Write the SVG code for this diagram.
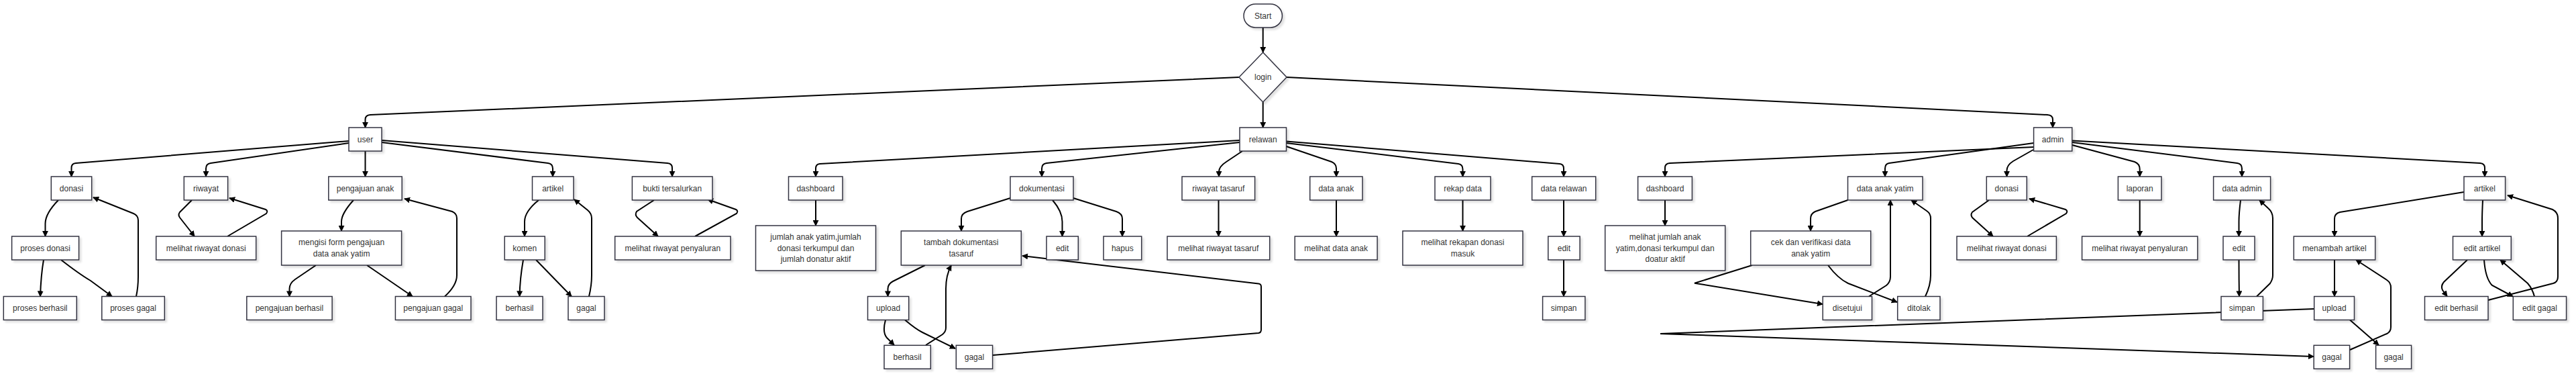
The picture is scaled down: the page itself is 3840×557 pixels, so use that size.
<svg xmlns="http://www.w3.org/2000/svg" width="3840" height="557" viewBox="0 0 3840 557">
<style>
.n rect,.n polygon{fill:#fff;stroke:#333340;stroke-width:1.5;filter:url(#sh)}
.n text{font-family:"Liberation Sans",Arial,sans-serif;font-size:12px;fill:#333;text-anchor:middle;dominant-baseline:central}
.e path{fill:none;stroke:#000;stroke-width:2;marker-end:url(#ah)}
</style>
<defs>
<filter id="sh" x="-20%" y="-20%" width="150%" height="150%"><feDropShadow dx="3" dy="3" stdDeviation="1.5" flood-color="#000" flood-opacity="0.12"/></filter>
<marker id="ah" viewBox="0 0 10 10" refX="9" refY="5" markerWidth="9" markerHeight="9" markerUnits="userSpaceOnUse" orient="auto"><path d="M0,0 L10,5 L0,10 z" fill="#000"/></marker>
</defs>
<g id="connectors" class="e">
<path d="M1882.7,41 L1882.7,78"/>
<path d="M1882.7,152 L1882.7,190"/>
<path d="M1847,115 L552,171 Q544.5,171.5 544.5,178 L544.5,190"/>
<path d="M1918,115 L3052,171 Q3060,171.5 3060,178 L3060,190"/>
<path d="M520,210 L113,243 Q106.5,243.5 106.5,250 L106.5,263"/>
<path d="M520,213 L314,243 Q307,244 307,251 L307,263"/>
<path d="M544.5,225 L544.5,263"/>
<path d="M569,212 L817,243 Q824,244 824,251 L824,263"/>
<path d="M569,209 L995,243 Q1002,243.5 1002,250 L1002,263"/>
<path d="M87,298 Q67.5,318 67.5,333 L67.5,352"/>
<path d="M203,441.5 Q206,428 206,412 L206,328 Q206,321 199,318 L139,294"/>
<path d="M65,387 Q61,410 60,441.5"/>
<path d="M91,387 Q118,408 135,418 L167,441.5"/>
<path d="M286,298 L268,316 Q265,320 268,324 L290,352"/>
<path d="M339,352 L397,318 Q400,314 396,312 L342,295"/>
<path d="M527,298 Q509,318 509,330 L509,344"/>
<path d="M471,395 L440,416 Q431.5,422 431.5,430 L431.5,441.5"/>
<path d="M547,395 L615,441.5"/>
<path d="M663,441.5 Q681,425 681,410 L681,325 Q681,318 674,315 L603,296"/>
<path d="M803,298 Q782,315 782,330 L782,352"/>
<path d="M780,387 Q775,415 774.5,441.5"/>
<path d="M799,387 L852,441.5"/>
<path d="M878,441.5 Q882,425 882,410 L882,325 Q882,318 876,313 L856,297"/>
<path d="M975,298 L949,315 Q946,320 950,324 L981,352"/>
<path d="M1036,352 L1098,318 Q1101,314 1097,312 L1055,297"/>
<path d="M1848,209 L1222,244 Q1216,244.5 1216,251 L1216,263"/>
<path d="M1848,212 L1560,243 Q1553,244 1553,251 L1553,263"/>
<path d="M1852,225 L1828,241 Q1817,248 1817,256 L1817,263"/>
<path d="M1917.5,218 L1985,241 Q1992,244 1992,251 L1992,263"/>
<path d="M1917.5,213 L2174,244 Q2180.5,245 2180.5,252 L2180.5,263"/>
<path d="M1917.5,210.5 L2325,244 Q2331,244.5 2331,251 L2331,263"/>
<path d="M1216,298 L1216,336"/>
<path d="M1506,295 L1442,315 Q1433,318 1433,326 L1433,344"/>
<path d="M1569,298 Q1583.5,315 1583.5,330 L1583.5,352"/>
<path d="M1600,295 L1664,315 Q1673,318 1673,326 L1673,352"/>
<path d="M1816.5,298 L1816.5,352"/>
<path d="M1379,395 L1331,419 Q1323.5,423 1323.5,430 L1323.5,441.5"/>
<path d="M1320,476.5 Q1315,495 1322,503 L1333,514"/>
<path d="M1349,476.5 Q1365,490 1375,495 L1424,519"/>
<path d="M1380,514 L1405,498 Q1410,494 1410,488 L1410,430 Q1410,410 1418,395"/>
<path d="M1479.6,529 L1876,496 Q1880,495.5 1880,491 L1880,427 Q1880,423 1876,422.5 L1524,381"/>
<path d="M1992,298 L1992,352"/>
<path d="M2180.5,298 L2180.5,344"/>
<path d="M2331,298 L2331,352"/>
<path d="M2331,387 L2331,441.5"/>
<path d="M3031.6,219 L2489,243 Q2482,243.5 2482,250 L2482,263"/>
<path d="M3031.6,213 L2816,243 Q2810,244 2810,251 L2810,263"/>
<path d="M3031,223 L3001,240 Q2991.5,246 2991.5,254 L2991.5,263"/>
<path d="M3089,216 L3182,241 Q3189.7,244 3189.7,252 L3189.7,263"/>
<path d="M3089,212 L3335,243 Q3342,244 3342,251 L3342,263"/>
<path d="M3089,209.5 L3697,243 Q3704,243.5 3704,250 L3704,263"/>
<path d="M2482,298 L2482,336"/>
<path d="M2754.5,298 L2706,315 Q2699,318 2699,326 L2699,344"/>
<path d="M2612,395 L2526,421.7 L2717,453"/>
<path d="M2786,441.5 L2812,425 Q2818,420 2818,412 L2818,298"/>
<path d="M2725,395 Q2740,415 2755,422 L2828,450"/>
<path d="M2870,441.5 Q2878,425 2878,410 L2878,325 Q2878,318 2872,314 L2849,298"/>
<path d="M2965,298 L2940,316 Q2937,320 2940,324 L2971,352"/>
<path d="M3022,352 L3080,318 Q3083,314 3079,312 L3025,296"/>
<path d="M3189.7,298 L3189.7,352"/>
<path d="M3340,298 Q3337.5,318 3337.5,330 L3337.5,352"/>
<path d="M3337.5,387 Q3337.5,415 3338,441.5"/>
<path d="M3364,441.5 L3384,422 Q3388,416 3388,410 L3388,325 Q3388,316 3381,310 L3368,298"/>
<path d="M3673,286 L3488,316 Q3480,318 3480,326 L3480,352"/>
<path d="M3701,298 Q3700,318 3700,330 L3700,352"/>
<path d="M3480,387 L3480,441.5"/>
<path d="M3503,476.5 L3546,514"/>
<path d="M3503,521 L3558,497 Q3564,494 3564,487 L3564,428 Q3564,421 3558,417 L3512,387"/>
<path d="M3450,460 L2475,497 L3449,531"/>
<path d="M3678,387 L3643,420 Q3638,426 3641,432 L3648,441.5"/>
<path d="M3703,387 Q3705,415 3715,425 L3746,441.5"/>
<path d="M3778,441.5 Q3775,430 3768,422 L3727,387"/>
<path d="M3709,447 L3806,422 Q3813,420 3813,412 L3813,325 Q3813,316 3805,312 L3738,291"/>
</g>
<g id="start" class="n"><rect x="1854" y="6" width="57.4" height="35" rx="17.5"/><text x="1882.7" y="23.5">Start</text></g>
<g id="login" class="n"><polygon points="1882.7,78 1918,115 1882.7,152 1847,115"/><text x="1882.7" y="115">login</text></g>
<g id="user" class="n"><rect x="520" y="190" width="49" height="35"/><text x="544.5" y="207.5">user</text></g>
<g id="relawan" class="n"><rect x="1848" y="190" width="69.5" height="35"/><text x="1882.7" y="207.5">relawan</text></g>
<g id="admin" class="n"><rect x="3031.6" y="190" width="57.2" height="35"/><text x="3060.2" y="207.5">admin</text></g>

<g id="u_donasi" class="n"><rect x="76.3" y="263" width="60.4" height="35"/><text x="106.5" y="280.5">donasi</text></g>
<g id="u_riwayat" class="n"><rect x="274.3" y="263" width="65.3" height="35"/><text x="307" y="280.5">riwayat</text></g>
<g id="u_pengajuan" class="n"><rect x="489.8" y="263" width="109.4" height="35"/><text x="544.5" y="280.5">pengajuan anak</text></g>
<g id="u_artikel" class="n"><rect x="793.5" y="263" width="61.5" height="35"/><text x="824.2" y="280.5">artikel</text></g>
<g id="u_bukti" class="n"><rect x="942.4" y="263" width="119.6" height="35"/><text x="1002.2" y="280.5">bukti tersalurkan</text></g>
<g id="r_dashboard" class="n"><rect x="1175.5" y="263" width="80.5" height="35"/><text x="1215.8" y="280.5">dashboard</text></g>
<g id="r_dokumentasi" class="n"><rect x="1506" y="263" width="94" height="35"/><text x="1553" y="280.5">dokumentasi</text></g>
<g id="r_riwayat" class="n"><rect x="1762" y="263" width="108.6" height="35"/><text x="1816.3" y="280.5">riwayat tasaruf</text></g>
<g id="r_dataanak" class="n"><rect x="1952.7" y="263" width="78.3" height="35"/><text x="1991.8" y="280.5">data anak</text></g>
<g id="r_rekap" class="n"><rect x="2139" y="263" width="83" height="35"/><text x="2180.5" y="280.5">rekap data</text></g>
<g id="r_datarelawan" class="n"><rect x="2283.7" y="263" width="95" height="35"/><text x="2331.2" y="280.5">data relawan</text></g>
<g id="a_dashboard" class="n"><rect x="2441.6" y="263" width="80.8" height="35"/><text x="2482" y="280.5">dashboard</text></g>
<g id="a_dataanak" class="n"><rect x="2754.5" y="263" width="111.5" height="35"/><text x="2810.2" y="280.5">data anak yatim</text></g>
<g id="a_donasi" class="n"><rect x="2961.3" y="263" width="60" height="35"/><text x="2991.3" y="280.5">donasi</text></g>
<g id="a_laporan" class="n"><rect x="3157.4" y="263" width="64.6" height="35"/><text x="3189.7" y="280.5">laporan</text></g>
<g id="a_dataadmin" class="n"><rect x="3299.6" y="263" width="85" height="35"/><text x="3342.1" y="280.5">data admin</text></g>
<g id="a_artikel" class="n"><rect x="3673" y="263" width="61.6" height="35"/><text x="3703.8" y="280.5">artikel</text></g>

<g id="u_prosesdonasi" class="n"><rect x="17.6" y="352" width="100" height="35"/><text x="67.6" y="369.5">proses donasi</text></g>
<g id="u_melihatriwayat" class="n"><rect x="232.7" y="352" width="149" height="35"/><text x="307.2" y="369.5">melihat riwayat donasi</text></g>
<g id="u_mengisi" class="n"><rect x="419.6" y="344" width="179" height="51"/><text x="509.1" y="361">mengisi form pengajuan</text><text x="509.1" y="378">data anak yatim</text></g>
<g id="u_komen" class="n"><rect x="752.2" y="352" width="60" height="35"/><text x="782.2" y="369.5">komen</text></g>
<g id="u_penyaluran" class="n"><rect x="916.7" y="352" width="172.3" height="35"/><text x="1002.8" y="369.5">melihat riwayat penyaluran</text></g>
<g id="r_jumlah" class="n"><rect x="1126.5" y="336" width="179" height="67"/><text x="1216" y="353">jumlah anak yatim,jumlah</text><text x="1216" y="369.5">donasi terkumpul dan</text><text x="1216" y="386">jumlah donatur aktif</text></g>
<g id="r_tambah" class="n"><rect x="1343.3" y="344" width="179" height="51"/><text x="1432.8" y="361">tambah dokumentasi</text><text x="1432.8" y="378">tasaruf</text></g>
<g id="r_edit" class="n"><rect x="1560" y="352" width="47.3" height="35"/><text x="1583.6" y="369.5">edit</text></g>
<g id="r_hapus" class="n"><rect x="1645" y="352" width="56.7" height="35"/><text x="1673.3" y="369.5">hapus</text></g>
<g id="r_melihattasaruf" class="n"><rect x="1740" y="352" width="152.7" height="35"/><text x="1816.3" y="369.5">melihat riwayat tasaruf</text></g>
<g id="r_melihatdataanak" class="n"><rect x="1930.2" y="352" width="122.9" height="35"/><text x="1991.6" y="369.5">melihat data anak</text></g>
<g id="r_rekapan" class="n"><rect x="2091" y="344" width="179" height="51"/><text x="2180.5" y="361">melihat rekapan donasi</text><text x="2180.5" y="378">masuk</text></g>
<g id="r_editrelawan" class="n"><rect x="2307.8" y="352" width="47.3" height="35"/><text x="2331.4" y="369.5">edit</text></g>
<g id="a_melihatjumlah" class="n"><rect x="2392.7" y="336" width="179" height="67"/><text x="2482.2" y="353">melihat jumlah anak</text><text x="2482.2" y="369.5">yatim,donasi terkumpul dan</text><text x="2482.2" y="386">doatur aktif</text></g>
<g id="a_cek" class="n"><rect x="2609.7" y="344" width="179" height="51"/><text x="2699.2" y="361">cek dan verifikasi data</text><text x="2699.2" y="378">anak yatim</text></g>
<g id="a_melihatriwayat" class="n"><rect x="2917" y="352" width="148.4" height="35"/><text x="2991.2" y="369.5">melihat riwayat donasi</text></g>
<g id="a_penyaluran" class="n"><rect x="3103.6" y="352" width="172.3" height="35"/><text x="3189.7" y="369.5">melihat riwayat penyaluran</text></g>
<g id="a_edit" class="n"><rect x="3314" y="352" width="47" height="35"/><text x="3337.5" y="369.5">edit</text></g>
<g id="a_menambah" class="n"><rect x="3419.3" y="352" width="121.4" height="35"/><text x="3480" y="369.5">menambah artikel</text></g>
<g id="a_editartikel" class="n"><rect x="3656.5" y="352" width="86.8" height="35"/><text x="3699.9" y="369.5">edit artikel</text></g>

<g id="u_prosesberhasil" class="n"><rect x="5.3" y="441.5" width="109" height="35"/><text x="59.8" y="459">proses berhasil</text></g>
<g id="u_prosesgagal" class="n"><rect x="151.8" y="441.5" width="93.5" height="35"/><text x="198.5" y="459">proses gagal</text></g>
<g id="u_pengajuanberhasil" class="n"><rect x="367.8" y="441.5" width="127.3" height="35"/><text x="431.4" y="459">pengajuan berhasil</text></g>
<g id="u_pengajuangagal" class="n"><rect x="589.4" y="441.5" width="112.6" height="35"/><text x="645.7" y="459">pengajuan gagal</text></g>
<g id="u_berhasil" class="n"><rect x="740" y="441.5" width="69" height="35"/><text x="774.5" y="459">berhasil</text></g>
<g id="u_gagal" class="n"><rect x="847" y="441.5" width="54" height="35"/><text x="874" y="459">gagal</text></g>
<g id="r_upload" class="n"><rect x="1293.5" y="441.5" width="61.2" height="35"/><text x="1324.1" y="459">upload</text></g>
<g id="r_simpan" class="n"><rect x="2299.6" y="441.5" width="63.3" height="35"/><text x="2331.2" y="459">simpan</text></g>
<g id="a_disetujui" class="n"><rect x="2717.2" y="441.5" width="73.3" height="35"/><text x="2753.8" y="459">disetujui</text></g>
<g id="a_ditolak" class="n"><rect x="2828.7" y="441.5" width="63.3" height="35"/><text x="2860.3" y="459">ditolak</text></g>
<g id="a_simpan" class="n"><rect x="3311" y="441.5" width="62.4" height="35"/><text x="3342.2" y="459">simpan</text></g>
<g id="a_upload" class="n"><rect x="3449.7" y="441.5" width="59.8" height="35"/><text x="3479.6" y="459">upload</text></g>
<g id="a_editberhasil" class="n"><rect x="3614.5" y="441.5" width="94.5" height="35"/><text x="3661.7" y="459">edit berhasil</text></g>
<g id="a_editgagal" class="n"><rect x="3746.3" y="441.5" width="79.3" height="35"/><text x="3785.9" y="459">edit gagal</text></g>

<g id="r_berhasil" class="n"><rect x="1318" y="514.3" width="69.3" height="35"/><text x="1352.6" y="531.8">berhasil</text></g>
<g id="r_gagal" class="n"><rect x="1425.3" y="514.3" width="54.3" height="35"/><text x="1452.4" y="531.8">gagal</text></g>
<g id="a_gagal1" class="n"><rect x="3449.2" y="514.3" width="53.4" height="35"/><text x="3475.9" y="531.8">gagal</text></g>
<g id="a_gagal2" class="n"><rect x="3541.6" y="514.3" width="53" height="35"/><text x="3568.1" y="531.8">gagal</text></g>
</svg>
